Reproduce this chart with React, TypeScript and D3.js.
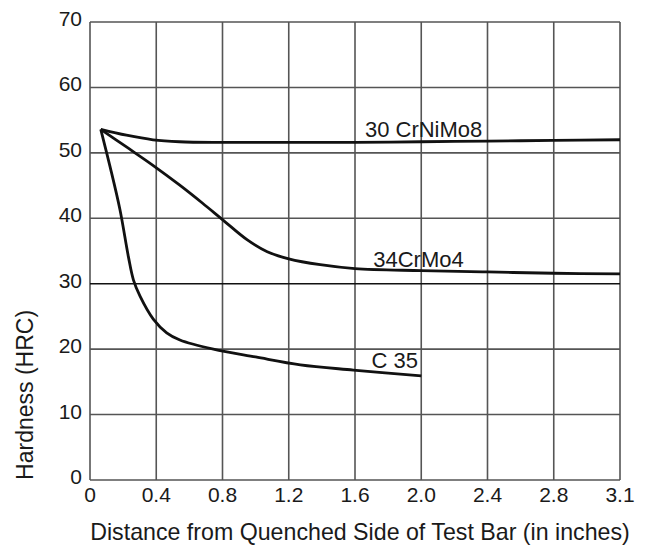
import React, { useEffect, useRef } from "react";
import * as d3 from "d3";

// x in inches, y in HRC
const xTicks = [0, 0.4, 0.8, 1.2, 1.6, 2.0, 2.4, 2.8, 3.2];
const xTickLabels = ["0", "0.4", "0.8", "1.2", "1.6", "2.0", "2.4", "2.8", "3.1"];
const yTicks = [0, 10, 20, 30, 40, 50, 60, 70];

const crnimoX = [0.065, 0.22, 0.38, 0.54, 0.8, 1.2, 1.6, 2.0, 2.4, 2.8, 3.2];
const crnimoY = [53.6, 52.7, 52.0, 51.7, 51.6, 51.6, 51.6, 51.7, 51.8, 51.9, 52.0];

const crmoX = [0.065, 0.22, 0.38, 0.54, 0.68, 0.8, 0.95, 1.07, 1.2, 1.39, 1.6, 2.0, 2.4, 2.8, 3.2];
const crmoY = [53.6, 50.9, 48.1, 45.1, 42.3, 39.8, 36.7, 34.9, 33.8, 32.9, 32.3, 32.0, 31.8, 31.6, 31.5];

const c35X = [0.065, 0.121, 0.181, 0.232, 0.262, 0.302, 0.382, 0.463, 0.543, 0.745, 1.0, 1.27, 1.59, 2.0];
const c35Y = [53.6, 47.9, 41.3, 34.1, 30.6, 28.1, 24.6, 22.5, 21.4, 20.0, 18.8, 17.6, 16.8, 15.9];

const seriesNames = ["30 CrNiMo8", "34CrMo4", "C 35"];
const labelX = [1.66, 1.71, 1.7];
const labelY = [52.5, 32.6, 17.1];

const App = () => {
  const svgRef = useRef<SVGSVGElement>(null);

  useEffect(() => {
    const width = 647;
    const height = 545;
    const margin = { top: 22, right: 27, bottom: 65, left: 90 };

    const svg = d3.select(svgRef.current);
    svg.selectAll("*").remove();

    const x = d3
      .scaleLinear()
      .domain([0, 3.2])
      .range([margin.left, width - margin.right]);
    const y = d3
      .scaleLinear()
      .domain([0, 70])
      .range([height - margin.bottom, margin.top]);

    const font = "'Liberation Sans', Arial, Helvetica, sans-serif";
    const textColor = "#1a1a1a";

    svg.append("rect").attr("width", width).attr("height", height).attr("fill", "#fff");

    // grid
    svg
      .append("g")
      .selectAll("line")
      .data(xTicks)
      .join("line")
      .attr("x1", (d) => x(d))
      .attr("x2", (d) => x(d))
      .attr("y1", y(0))
      .attr("y2", y(70))
      .attr("stroke", "#555")
      .attr("stroke-width", 1.6);

    svg
      .append("g")
      .selectAll("line")
      .data(yTicks)
      .join("line")
      .attr("x1", x(0))
      .attr("x2", x(3.2))
      .attr("y1", (d) => y(d))
      .attr("y2", (d) => y(d))
      .attr("stroke", (d) => (d === 30 ? "#111" : "#555"))
      .attr("stroke-width", 1.6);

    // tick labels
    svg
      .append("g")
      .selectAll("text")
      .data(xTicks)
      .join("text")
      .attr("x", (d) => x(d))
      .attr("y", y(0) + 22)
      .attr("text-anchor", "middle")
      .attr("font-family", font)
      .attr("font-size", 21)
      .attr("fill", textColor)
      .text((d, i) => xTickLabels[i]);

    svg
      .append("g")
      .selectAll("text")
      .data(yTicks)
      .join("text")
      .attr("x", x(0) - 8)
      .attr("y", (d) => y(d) + 4)
      .attr("text-anchor", "end")
      .attr("font-family", font)
      .attr("font-size", 21)
      .attr("fill", textColor)
      .text((d) => d);

    // axis titles
    svg
      .append("text")
      .attr("x", (x(0) + x(3.2)) / 2 + 5)
      .attr("y", 540)
      .attr("text-anchor", "middle")
      .attr("font-family", font)
      .attr("font-size", 23.2)
      .attr("fill", textColor)
      .text("Distance from Quenched Side of Test Bar (in inches)");

    svg
      .append("text")
      .attr("transform", `translate(33,${y(13)}) rotate(-90)`)
      .attr("text-anchor", "middle")
      .attr("font-family", font)
      .attr("font-size", 23)
      .attr("fill", textColor)
      .text("Hardness (HRC)");

    // curves
    const line = d3
      .line<[number, number]>()
      .x((d) => x(d[0]))
      .y((d) => y(d[1]))
      .curve(d3.curveCatmullRom.alpha(0.5));

    const series: [number, number][][] = [
      d3.zip(crnimoX, crnimoY) as [number, number][],
      d3.zip(crmoX, crmoY) as [number, number][],
      d3.zip(c35X, c35Y) as [number, number][],
    ];

    svg
      .append("g")
      .selectAll("path")
      .data(series)
      .join("path")
      .attr("d", (d) => line(d))
      .attr("fill", "none")
      .attr("stroke", "#111")
      .attr("stroke-width", 2.8)
      .attr("stroke-linejoin", "round");

    svg
      .append("g")
      .selectAll("text")
      .data(seriesNames)
      .join("text")
      .attr("x", (d, i) => x(labelX[i]))
      .attr("y", (d, i) => y(labelY[i]))
      .attr("font-family", font)
      .attr("font-size", 22)
      .attr("fill", textColor)
      .text((d) => d);
  }, []);

  return (
    <svg
      ref={svgRef}
      width={647}
      height={545}
      style={{ position: "absolute", left: 0, top: 0 }}
    ></svg>
  );
};

export default App;
